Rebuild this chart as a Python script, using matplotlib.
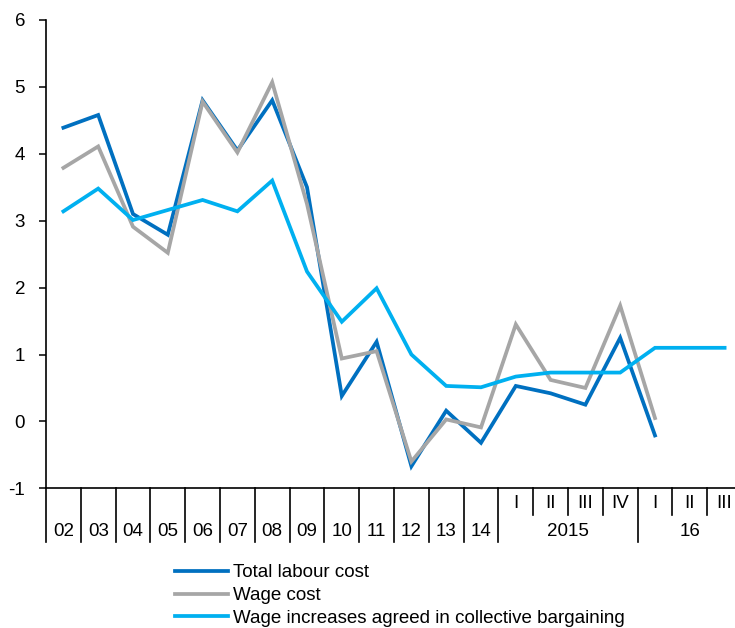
import matplotlib
matplotlib.use("Agg")
import matplotlib.pyplot as plt
import matplotlib.transforms as mtransforms

plt.rcParams['font.family'] = ['Liberation Sans', 'DejaVu Sans']

# ---- data ----
year_labels = ["02", "03", "04", "05", "06", "07", "08", "09", "10", "11", "12", "13", "14"]
quarter_labels = ["I", "II", "III", "IV", "I", "II", "III"]
group_labels = ["2015", "16"]
group_sizes = [4, 3]

total_labour_cost = [4.39, 4.58, 3.10, 2.79, 4.80, 4.05, 4.80, 3.50, 0.38, 1.19, -0.67, 0.16, -0.32,
                     0.53, 0.42, 0.25, 1.25, -0.21, None, None]
wage_cost = [3.79, 4.11, 2.91, 2.52, 4.78, 4.02, 5.07, 3.25, 0.94, 1.05, -0.60, 0.03, -0.09,
             1.45, 0.62, 0.50, 1.73, 0.05, None, None]
wage_agreed = [3.14, 3.48, 3.01, 3.16, 3.31, 3.14, 3.60, 2.24, 1.49, 1.99, 1.00, 0.53, 0.51,
               0.67, 0.73, 0.73, 0.73, 1.10, 1.10, 1.10]

series_names = ["Total labour cost", "Wage cost", "Wage increases agreed in collective bargaining"]
colors = ["#0070C0", "#A6A6A6", "#00B0F0"]

n = len(year_labels) + len(quarter_labels)
x = list(range(n))

def clean(v):
    return [float('nan') if a is None else a for a in v]

fig = plt.figure(figsize=(7.35, 6.28), dpi=100)
ax = fig.add_axes([46 / 735, 1 - 488.3 / 628, 696 / 735, 468.3 / 628])

for vals, c, name, z in zip([total_labour_cost, wage_cost, wage_agreed], colors, series_names, [2, 3, 4]):
    ax.plot(x, clean(vals), color=c, lw=2.7, label=name, zorder=z, solid_joinstyle='miter')

ax.set_xlim(-0.5, n - 0.5)
ax.set_ylim(-1, 6)
ax.set_yticks(range(-1, 7))
ax.set_yticklabels([str(v) for v in range(-1, 7)])
ax.tick_params(axis='y', direction='out', length=5, width=1.1, labelsize=13.5, pad=10)
ax.set_xticks([])
for s in ["top", "right"]:
    ax.spines[s].set_visible(False)
ax.spines["left"].set_linewidth(1.2)
ax.spines["bottom"].set_linewidth(1.2)

trans = mtransforms.blended_transform_factory(ax.transData, ax.transAxes)
full_len = -(541.5 - 488.3) / 468.3
short_len = -(515 - 488.3) / 468.3
y_year = -(531 - 488.3) / 468.3
y_quarter = -(503 - 488.3) / 468.3

ny = len(year_labels)
# separators
boundaries_full = [i - 0.5 for i in range(ny + 1)]
pos = ny
for g in group_sizes:
    pos += g
    boundaries_full.append(pos - 0.5)
boundaries_short = []
pos = ny
for g in group_sizes:
    for k in range(1, g):
        boundaries_short.append(pos + k - 0.5)
    pos += g
for b in boundaries_full:
    ax.plot([b, b], [0, full_len], transform=trans, color="black", lw=1.2, clip_on=False)
for b in boundaries_short:
    ax.plot([b, b], [0, short_len], transform=trans, color="black", lw=1.2, clip_on=False)

for i, lab in enumerate(year_labels):
    ax.text(i, y_year, lab, transform=trans, ha="center", va="center", fontsize=13.5)
for j, lab in enumerate(quarter_labels):
    ax.text(ny + j, y_quarter, lab, transform=trans, ha="center", va="center", fontsize=13.5)
pos = ny
for g, lab in zip(group_sizes, group_labels):
    ax.text(pos + (g - 1) / 2, y_year, lab, transform=trans, ha="center", va="center", fontsize=13.5)
    pos += g

leg = fig.legend(loc="upper left", bbox_to_anchor=(175 / 735, 1 - 564 / 628), frameon=False,
                 fontsize=13.5, handlelength=2.85, handletextpad=0.25, labelspacing=0.31,
                 borderaxespad=0, borderpad=0)

fig.savefig("out.png", dpi=100)
